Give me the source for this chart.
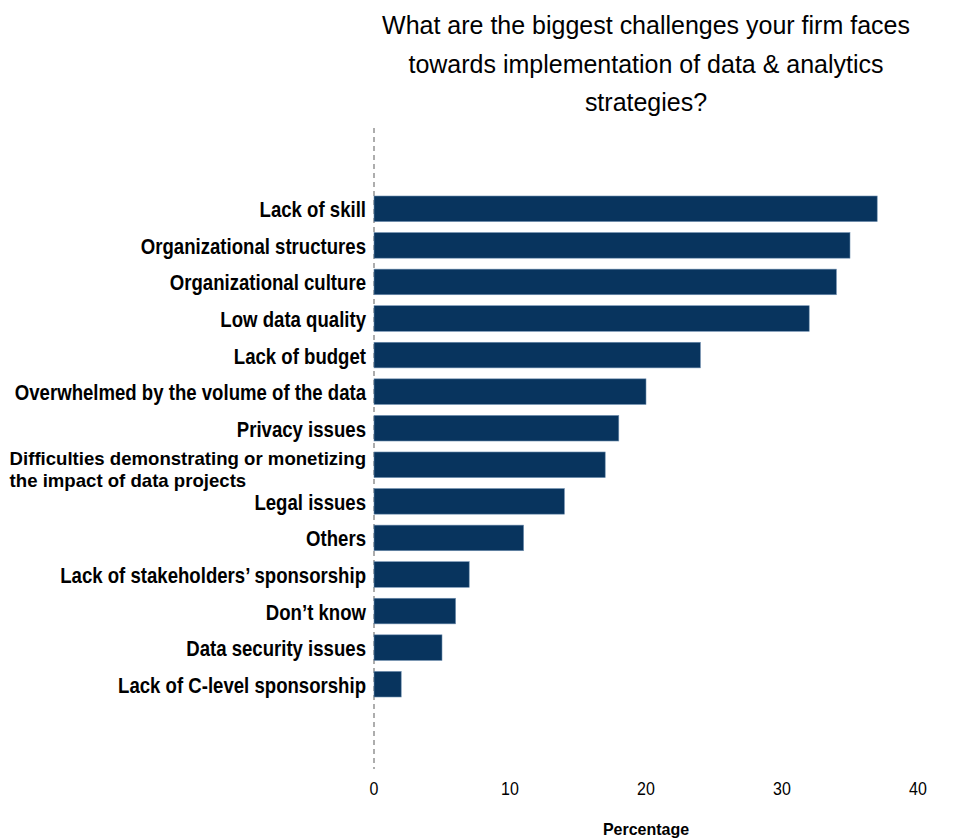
<!DOCTYPE html>
<html>
<head>
<meta charset="utf-8">
<script src="https://cdn.jsdelivr.net/npm/d3@7"></script>
<style>
  body { margin: 0; background: #fff; }
  text { font-family: "Liberation Sans", Arial, Helvetica, sans-serif; }
</style>
</head>
<body>
<script>
var categories = [
  "Lack of skill",
  "Organizational structures",
  "Organizational culture",
  "Low data quality",
  "Lack of budget",
  "Overwhelmed by the volume of the data",
  "Privacy issues",
  "Difficulties demonstrating or monetizing|the impact of data projects",
  "Legal issues",
  "Others",
  "Lack of stakeholders\u2019 sponsorship",
  "Don\u2019t know",
  "Data security issues",
  "Lack of C-level sponsorship"
];
var values = [37, 35, 34, 32, 24, 20, 18, 17, 14, 11, 7, 6, 5, 2];
var xTicks = [0, 10, 20, 30, 40];
var titleLines = [
  "What are the biggest challenges your firm faces",
  "towards implementation of data & analytics",
  "strategies?"
];

var width = 960;
var height = 840;

var margin = { left: 374, right: 42, top: 196, bottom: 143 };

var svg = d3
  .select("body")
  .append("svg")
  .attr("width", width)
  .attr("height", height);

var x = d3
  .scaleLinear()
  .domain([0, 40])
  .range([margin.left, width - margin.right]);

var y = d3
  .scaleBand()
  .domain(categories)
  .range([margin.top, height - margin.bottom])
  .paddingInner(0.3)
  .paddingOuter(0);

// the source text is a bit taller than it is wide, so stretch it vertically
function stretched(sel, px, py, sy) {
  return sel
    .attr("transform", "translate(" + px + "," + py + ") scale(1," + sy + ")")
    .attr("x", 0)
    .attr("y", 0);
}

// title
var title = svg.append("g");
titleLines.forEach(function(line, i) {
  stretched(title.append("text"), x(20), 34 + i * 38.5, 1.06)
    .attr("text-anchor", "middle")
    .attr("font-size", 25)
    .attr("fill", "#000")
    .text(line);
});

// dashed baseline
svg
  .append("line")
  .attr("x1", x(0))
  .attr("x2", x(0))
  .attr("y1", 128)
  .attr("y2", 769)
  .attr("stroke", "#777")
  .attr("stroke-width", 1.2)
  .attr("stroke-dasharray", "5,4");

svg
  .append("g")
  .selectAll("rect")
  .data(values)
  .enter()
  .append("rect")
  .attr("x", x(0))
  .attr("y", function(d, i) {
    return y(categories[i]);
  })
  .attr("width", function(d) {
    return x(d) - x(0);
  })
  .attr("height", y.bandwidth())
  .attr("fill", "#08345e")
  .attr("stroke", "#6f8fb0")
  .attr("stroke-width", 0.6);

// category labels
var labelG = svg.append("g");
categories.forEach(function(d) {
  var parts = d.split("|");
  var cy = y(d) + y.bandwidth() / 2;
  var lx = x(0) - 8;
  if (parts.length === 1) {
    stretched(labelG.append("text"), lx, cy + 8.5, 1.15)
      .attr("text-anchor", "end")
      .attr("font-size", 18.6)
      .attr("font-weight", "bold")
      .text(d);
  } else {
    // two-line label: first line right-aligned, second starts where the first does
    var first = stretched(labelG.append("text"), lx, cy + 0.5, 1)
      .attr("text-anchor", "end")
      .attr("font-size", 18.6)
      .attr("font-weight", "bold")
      .text(parts[0]);
    var w = first.node().getComputedTextLength();
    stretched(labelG.append("text"), lx - w, cy + 22, 1)
      .attr("text-anchor", "start")
      .attr("font-size", 18.6)
      .attr("font-weight", "bold")
      .text(parts[1]);
  }
});

// x axis labels, no ticks
var tickG = svg.append("g");
xTicks.forEach(function(t) {
  stretched(tickG.append("text"), x(t), 795, 1.18)
    .attr("text-anchor", "middle")
    .attr("font-size", 16)
    .attr("fill", "#000")
    .text(t);
});

stretched(svg.append("text"), x(20), 835, 1.08)
  .attr("text-anchor", "middle")
  .attr("font-size", 16)
  .attr("font-weight", "bold")
  .attr("fill", "#000")
  .text("Percentage");
</script>
</body>
</html>
